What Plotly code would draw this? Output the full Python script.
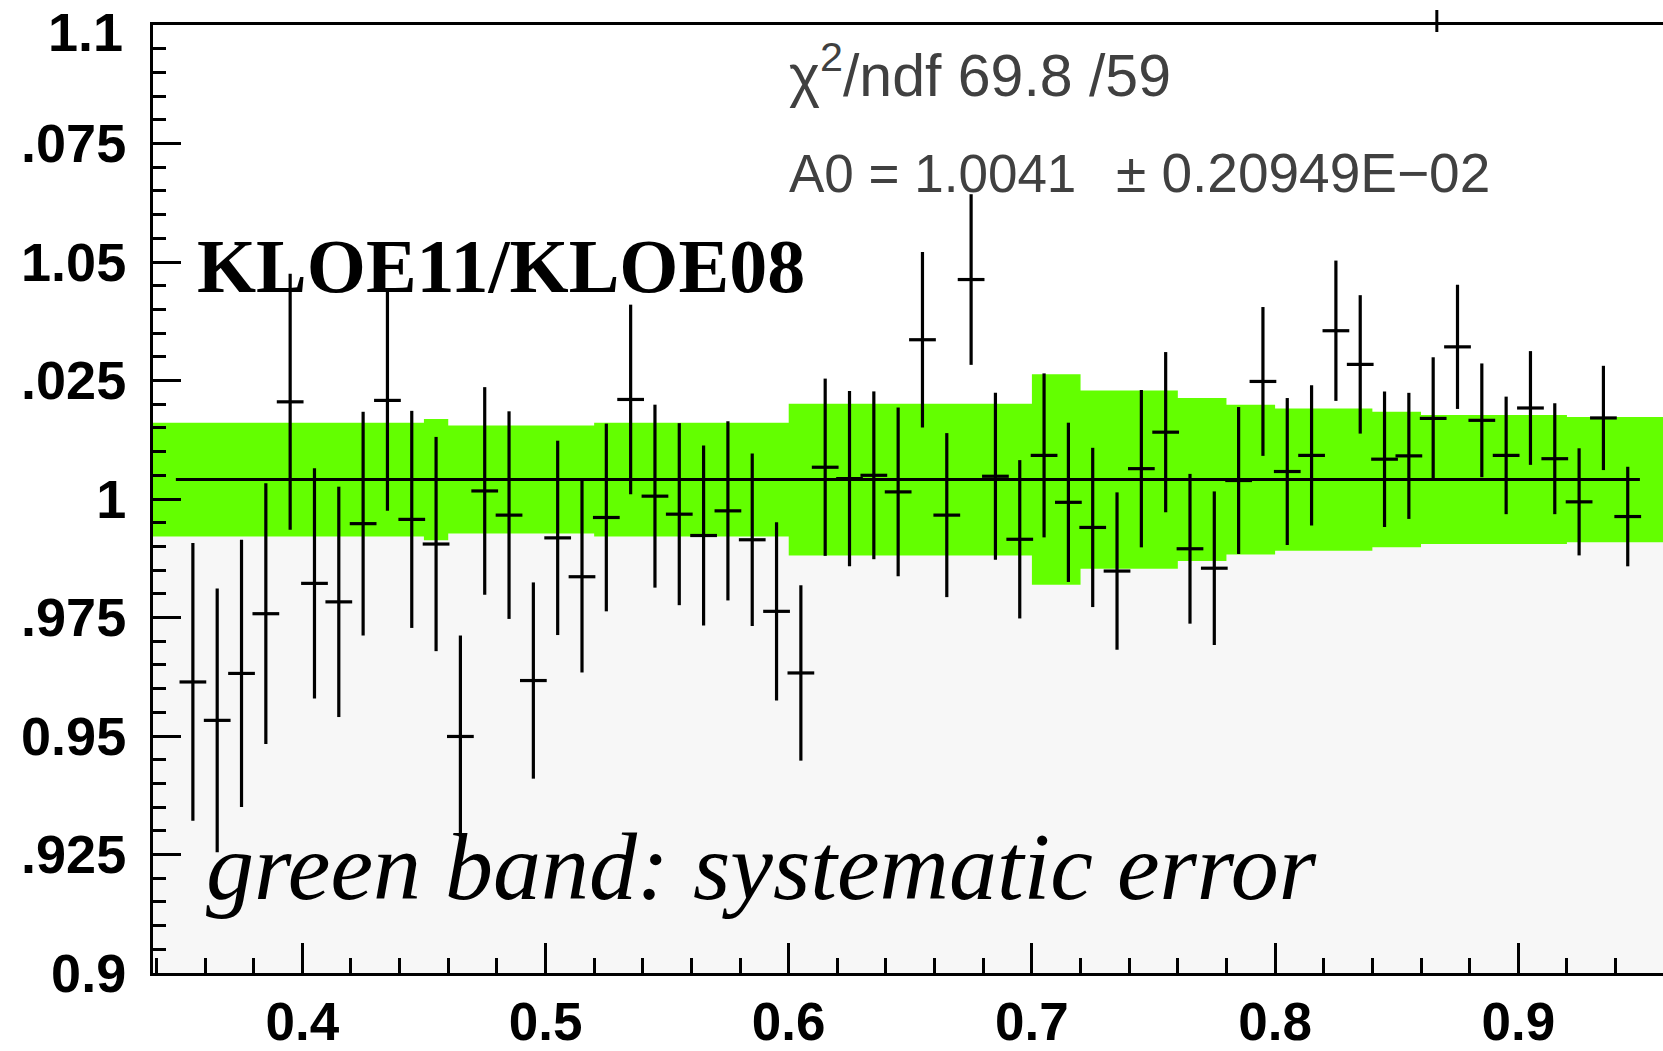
import plotly.graph_objects as go

# ---------------- data ----------------
x_centers = [0.355, 0.365, 0.375, 0.385, 0.395, 0.405, 0.415, 0.425, 0.435, 0.445,
             0.455, 0.465, 0.475, 0.485, 0.495, 0.505, 0.515, 0.525, 0.535, 0.545,
             0.555, 0.565, 0.575, 0.585, 0.595, 0.605, 0.615, 0.625, 0.635, 0.645,
             0.655, 0.665, 0.675, 0.685, 0.695, 0.705, 0.715, 0.725, 0.735, 0.745,
             0.755, 0.765, 0.775, 0.785, 0.795, 0.805, 0.815, 0.825, 0.835, 0.845,
             0.855, 0.865, 0.875, 0.885, 0.895, 0.905, 0.915, 0.925, 0.935, 0.945]
ratio = [0.9614, 0.9533, 0.9632, 0.9758, 1.0205, 0.9822, 0.9783, 0.9948, 1.0208, 0.9957,
         0.9905, 0.9499, 1.0017, 0.9966, 0.9617, 0.9918, 0.9836, 0.9961, 1.0210, 1.0006,
         0.9968, 0.9923, 0.9975, 0.9914, 0.9763, 0.9633, 1.0067, 1.0043, 1.0050, 1.0015,
         1.0336, 0.9966, 1.0463, 1.0048, 0.9915, 1.0092, 0.9993, 0.9940, 0.9848, 1.0064,
         1.0141, 0.9895, 0.9854, 1.0039, 1.0248, 1.0058, 1.0092, 1.0355, 1.0284, 1.0084,
         1.0091, 1.0170, 1.0321, 1.0166, 1.0092, 1.0192, 1.0085, 0.9994, 1.0171, 0.9963]
stat_err = [0.0293, 0.0278, 0.0282, 0.0275, 0.0270, 0.0243, 0.0243, 0.0236, 0.0233, 0.0229,
            0.0226, 0.0213, 0.0219, 0.0219, 0.0207, 0.0205, 0.0202, 0.0198, 0.0200, 0.0193,
            0.0192, 0.0190, 0.0189, 0.0182, 0.0188, 0.0185, 0.0187, 0.0185, 0.0177, 0.0178,
            0.0185, 0.0173, 0.0180, 0.0176, 0.0167, 0.0173, 0.0168, 0.0168, 0.0166, 0.0166,
            0.0169, 0.0158, 0.0162, 0.0155, 0.0157, 0.0155, 0.0148, 0.0148, 0.0146, 0.0143,
            0.0133, 0.0129, 0.0131, 0.0120, 0.0124, 0.0120, 0.0117, 0.0113, 0.0110, 0.0105]
bin_half = 0.0055

fit_A0 = 1.0041
fit_range = [0.348, 0.95]

# systematic band (centered on fit value), step edges and half widths
band_edges = [0.33, 0.45, 0.46, 0.52, 0.60, 0.70, 0.72, 0.76, 0.78, 0.80, 0.84, 0.86, 0.92, 0.97]
band_half = [0.0120, 0.0128, 0.0114, 0.0120, 0.0160, 0.0222, 0.0188, 0.0172, 0.0158, 0.0150,
             0.0143, 0.0136, 0.0132]

y_tickvals = [0.9, 0.925, 0.95, 0.975, 1.0, 1.025, 1.05, 1.075, 1.1]
y_ticktext = ["0.9", ".925", "0.95", ".975", "1", ".025", "1.05", ".075", ""]
y_top_label = "1.1"
x_tickvals = [0.4, 0.5, 0.6, 0.7, 0.8, 0.9]
x_ticktext = ["0.4", "0.5", "0.6", "0.7", "0.8", "0.9"]

# ---------------- figure ----------------
W, H = 1663, 1051
ML, MR, MT, MB = 153, 0, 25, 78
PW, PH = W - ML - MR, H - MT - MB


def px_x(p):
    return (p - ML) / PW


def px_y(p):
    return (H - MB - p) / PH


band_lo = [fit_A0 - h for h in band_half] + [fit_A0 - band_half[-1]]
band_hi = [fit_A0 + h for h in band_half] + [fit_A0 + band_half[-1]]

fig = go.Figure()
# light grey region below the band
fig.add_trace(go.Scatter(x=band_edges, y=band_lo, mode="lines", line=dict(width=0, shape="hv"),
                         fill="tozeroy", fillcolor="#f7f7f7", hoverinfo="skip", showlegend=False))
# green systematic band
fig.add_trace(go.Scatter(x=band_edges, y=band_hi, mode="lines", line=dict(width=0, shape="hv"),
                         fill="tonexty", fillcolor="#63ff00", hoverinfo="skip", showlegend=False))
# fit line
fig.add_trace(go.Scatter(x=fit_range, y=[fit_A0, fit_A0], mode="lines",
                         line=dict(color="black", width=3), showlegend=False))
# data points with errors
fig.add_trace(go.Scatter(
    x=x_centers, y=ratio, mode="markers",
    marker=dict(size=1, color="black"),
    error_y=dict(type="data", array=stat_err, visible=True, color="black", thickness=3.2, width=0),
    error_x=dict(type="constant", value=bin_half, visible=True, color="black", thickness=3.2, width=0),
    showlegend=False))

sans = "Liberation Sans, Arial, sans-serif"
serif = "Liberation Serif, Times New Roman, serif"
tick_font = dict(family=sans, size=54, color="black", weight="bold")

fig.update_layout(
    width=W, height=H,
    margin=dict(l=ML, r=MR, t=MT, b=MB, pad=0),
    paper_bgcolor="white", plot_bgcolor="white",
    xaxis=dict(range=[0.3386, 0.9595], showgrid=False, zeroline=False, automargin=False,
               showline=True, linecolor="black", linewidth=3, mirror=True,
               tickmode="array", tickvals=x_tickvals, ticktext=x_ticktext,
               ticks="inside", ticklen=30, tickwidth=3, tickcolor="black",
               ticklabeloverflow="allow",
               minor=dict(tickmode="linear", tick0=0.4, dtick=0.02, ticks="inside",
                          ticklen=15, tickwidth=3, tickcolor="black", showgrid=False),
               tickfont=dict(family=sans, size=53, color="black", weight="bold"),
               ticklabelstandoff=0),
    yaxis=dict(range=[0.9, 1.1], showgrid=False, zeroline=False, automargin=False,
               showline=True, linecolor="black", linewidth=3, mirror=False,
               tickmode="array", tickvals=y_tickvals, ticktext=y_ticktext,
               ticks="inside", ticklen=28, tickwidth=3, tickcolor="black",
               ticklabeloverflow="allow",
               minor=dict(tickmode="linear", tick0=0.9, dtick=0.005, ticks="inside",
                          ticklen=13, tickwidth=3, tickcolor="black", showgrid=False),
               tickfont=tick_font,
               ticklabelstandoff=13),
)

stat_color = "#404040"
annots = [
    dict(text="χ<sup>2</sup>/ndf 69.8 /59", x=px_x(787), y=px_y(97 + 0.212 * 59 + 1),
         xanchor="left", yanchor="bottom",
         font=dict(family=sans, size=59, color=stat_color)),
    dict(text="A0 = 1.0041", x=px_x(787), y=px_y(193 + 0.212 * 53 + 1),
         xanchor="left", yanchor="bottom",
         font=dict(family=sans, size=53, color=stat_color)),
    dict(text="± 0.20949E−02", x=px_x(1114), y=px_y(193 + 0.212 * 55 + 1),
         xanchor="left", yanchor="bottom",
         font=dict(family=sans, size=55, color=stat_color)),
    dict(text="KLOE11/KLOE08", x=px_x(195), y=px_y(293 + 0.216 * 76 + 1),
         xanchor="left", yanchor="bottom",
         font=dict(family=serif, size=76, color="black", weight="bold")),
    dict(text="green band: systematic error", x=px_x(204), y=px_y(900 + 0.216 * 96 + 1),
         xanchor="left", yanchor="bottom",
         font=dict(family=serif, size=96, color="black", style="italic")),
    # top y tick label (sits right at the figure's top edge)
    dict(text=y_top_label, x=px_x(125), y=px_y(0), xanchor="right", yanchor="top",
         font=tick_font),
]
for a in annots:
    fig.add_annotation(xref="paper", yref="paper", showarrow=False, **a)

# stray tick on the top frame
fig.add_shape(type="line", xref="x", yref="paper", x0=0.8665, x1=0.8665,
              y0=px_y(32), y1=px_y(10), line=dict(color="black", width=3))

fig.write_html("out.html")
